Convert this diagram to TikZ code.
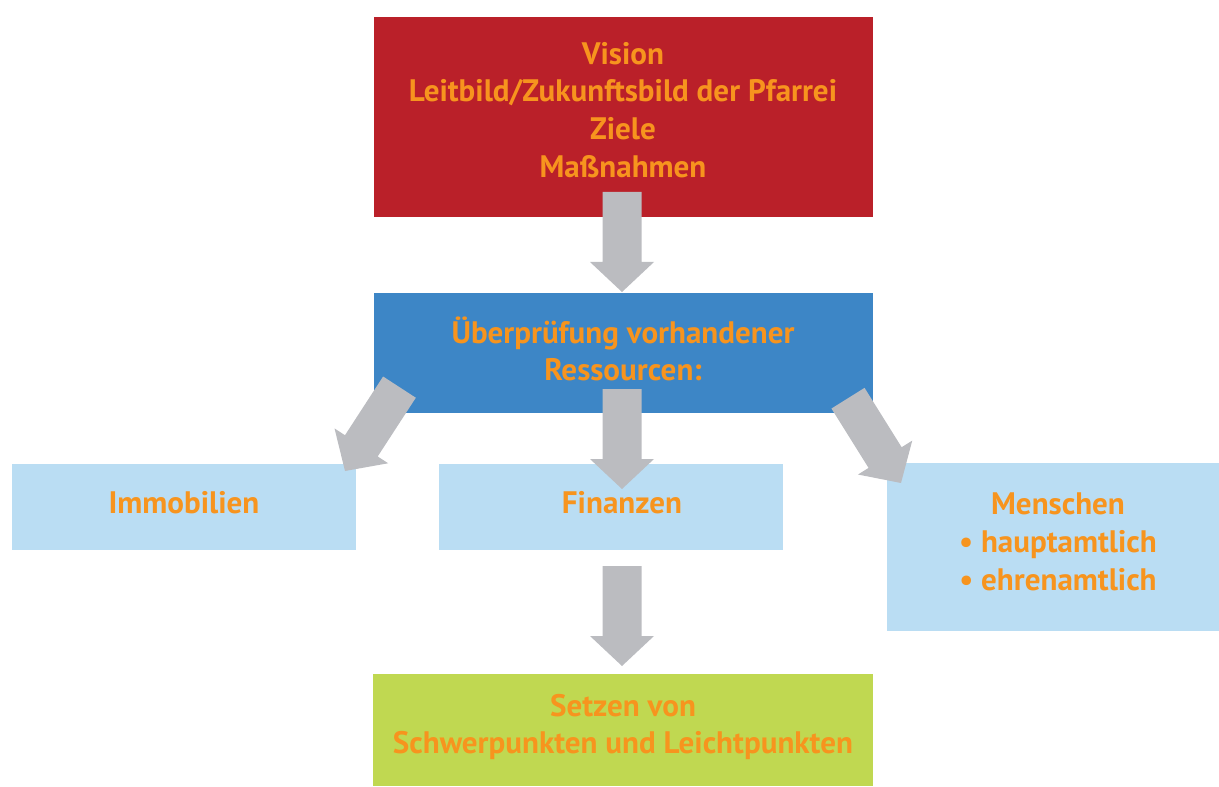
\documentclass[tikz,border=0pt]{standalone}
\usepackage{fontspec}
\setmainfont{PT Sans}
\usetikzlibrary{fit}
\definecolor{visionred}{HTML}{BA2029}
\definecolor{resblue}{HTML}{3D86C6}
\definecolor{lightblue}{HTML}{BADDF3}
\definecolor{setgreen}{HTML}{C0D851}
\definecolor{arrowgray}{HTML}{BBBCC0}
\definecolor{orangetxt}{HTML}{F7941E}
\begin{document}
\begin{tikzpicture}[x=0.75pt,y=-0.75pt,
  box/.style={inner sep=0pt, draw=none},
  txt/.style={text=orangetxt, font=\bfseries\fontsize{23.3}{28.3}\selectfont, align=center, inner sep=0pt},
  pics/blockarrow/.style={code={
    \fill[arrowgray] (-19.5,-100) -- (19.5,-100) -- (19.5,-30) -- (32,-30) -- (0,0) -- (-32,-30) -- (-19.5,-30) -- cycle;}}]
\useasboundingbox (0,0) rectangle (1219,787);
% boxes
\node[box, fill=visionred, fit={(374,17) (873,217)}] (vision) {};
\node[box, fill=resblue, fit={(374,293) (873,413)}] (res) {};
\node[box, fill=lightblue, fit={(12,464) (356,550)}] (immo) {};
\node[box, fill=lightblue, fit={(439,464) (783,550)}] (fin) {};
\node[box, fill=lightblue, fit={(887,463) (1219,631)}] (men) {};
\node[box, fill=setgreen, fit={(373,674) (873,786)}] (set) {};
% arrow tips
\coordinate (tipA) at (622,292);
\coordinate (tipB) at (622,489);
\coordinate (tipC) at (622,666);
\coordinate (tipL) at (345,471);
\coordinate (tipR) at (901,483);
\pic at (tipA) {blockarrow};
\pic at (tipB) {blockarrow};
\pic at (tipC) {blockarrow};
\pic[rotate=-33] at (tipL) {blockarrow};
\pic[rotate=32] at (tipR) {blockarrow};
% texts
\node[txt] (visiontxt) at (623,110) {Vision\\Leitbild/Zukunftsbild der Pfarrei\\Ziele\\Maßnahmen};
\node[txt] (restxt) at (623,349) {Überprüfung vorhandener\\Ressourcen:};
\node[txt] (immotxt) at (184,503) {Immobilien};
\node[txt] (fintxt) at (622,503) {Finanzen};
\node[txt] (mentxt) at (1058,542) {Menschen\\• hauptamtlich\\• ehrenamtlich};
\node[txt] (settxt) at (623,727) {Setzen von\\Schwerpunkten und Leichtpunkten};
\end{tikzpicture}
\end{document}
